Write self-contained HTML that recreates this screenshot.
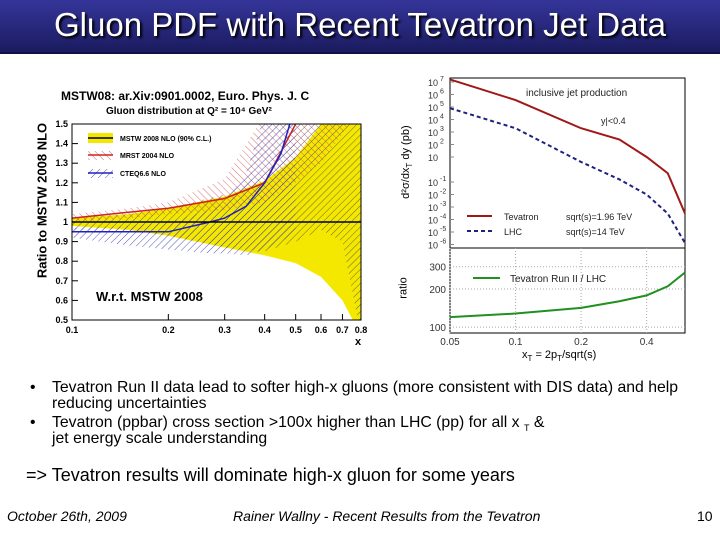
<!DOCTYPE html>
<html><head><meta charset="utf-8"><style>
body{margin:0;width:720px;height:540px;background:#fff;overflow:hidden;font-family:"Liberation Sans",sans-serif;position:relative}
.t{position:absolute;white-space:nowrap}
.sb{font-size:9px;position:relative;top:4px;line-height:0}
</style></head><body>
<div style="position:absolute;left:0;top:0;width:720px;height:52px;background:linear-gradient(#35359a,#1b1b60);border-bottom:2px solid #10104a"></div>
<div class="t" style="left:0;width:720px;text-align:center;top:6px;font-size:33px;color:#fff;text-shadow:2px 2px 2px #000">Gluon PDF with Recent Tevatron Jet Data</div>
<svg id="s" width="720" height="540" style="position:absolute;left:0;top:0" font-family="Liberation Sans, sans-serif">
<defs>
<pattern id="hk" width="5" height="5" patternUnits="userSpaceOnUse" patternTransform="rotate(45)"><line x1="0" y1="0" x2="0" y2="5" stroke="#444" stroke-width="0.8"/></pattern>
<pattern id="hr" width="5" height="5" patternUnits="userSpaceOnUse" patternTransform="rotate(-45)"><line x1="0" y1="0" x2="0" y2="5" stroke="#d05050" stroke-width="0.9"/></pattern>
<pattern id="hb" width="5" height="5" patternUnits="userSpaceOnUse" patternTransform="rotate(45)"><line x1="0" y1="0" x2="0" y2="5" stroke="#4040b0" stroke-width="0.9"/></pattern>
<clipPath id="cl"><rect x="72" y="124" width="289" height="196"/></clipPath>
</defs>
<g id="L"></g><g id="R"></g>
</svg>
<div class="t" style="left:61px;top:89px;font-size:12px;font-weight:bold">MSTW08: ar.Xiv:0901.0002, Euro. Phys. J. C</div>
<div class="t" style="left:106px;top:106px;font-size:10px;font-weight:bold">Gluon distribution at Q² = 10⁴ GeV²</div>
<div class="t" style="left:-38px;top:193px;font-size:13px;font-weight:bold;transform:rotate(-90deg);width:160px;text-align:center">Ratio to MSTW 2008 NLO</div>
<div class="t" style="left:96px;top:289px;font-size:13px;font-weight:bold">W.r.t. MSTW 2008</div>
<div class="t" style="left:342px;top:155px;font-size:11px;transform:rotate(-90deg);width:130px;text-align:center">d²σ/dx<sub style="font-size:8px">T</sub> dy (pb)</div>
<div class="t" style="left:393px;top:282px;font-size:11px;transform:rotate(-90deg)">ratio</div>
<div class="t" style="left:522px;top:349px;font-size:11px">x<sub style="font-size:8px">T</sub> = 2p<sub style="font-size:8px">T</sub>/sqrt(s)</div>
<div class="t" style="left:30px;top:380px;font-size:15.8px;line-height:16px">•</div>
<div class="t" style="left:52px;top:380px;font-size:15.8px;line-height:16px">Tevatron Run II data lead to softer high-x gluons (more consistent with DIS data) and help<br>reducing uncertainties</div>
<div class="t" style="left:30px;top:415px;font-size:15.8px;line-height:16px">•</div>
<div class="t" style="left:52px;top:415px;font-size:15.8px;line-height:16px">Tevatron (ppbar) cross section &gt;100x higher than LHC (pp) for all x <span class="sb">T</span> &amp;<br>jet energy scale understanding</div>
<div class="t" style="left:26px;top:465px;font-size:18px">=&gt; Tevatron results will dominate high-x gluon for some years</div>
<div class="t" style="left:7px;top:508px;font-size:14px;font-style:italic">October 26th, 2009</div>
<div class="t" style="left:233px;top:508px;font-size:14px;font-style:italic">Rainer Wallny - Recent Results from the Tevatron</div>
<div class="t" style="left:697px;top:508px;font-size:14px">10</div>
<script>
const gxs=[0.1,0.15,0.2,0.3,0.4,0.5,0.6,0.7,0.8];
const mstwUp=[1.02,1.04,1.07,1.13,1.21,1.33,1.50,1.70,1.9];
const mstwLo=[0.98,0.96,0.93,0.87,0.83,0.79,0.72,0.60,0.42];
const hatchUp=[1.02,1.04,1.07,1.14,1.25,1.50,1.8,2.1,2.4];
const hatchLo=[0.96,0.95,0.93,0.87,0.85,0.90,0.96,0.90,0.42];
const mrstXs=[0.1,0.15,0.2,0.3,0.4,0.5,0.6,0.7,0.8];
const mrstC=[1.02,1.05,1.07,1.12,1.20,1.50,1.9,2.3,2.7];
const mrstUp=[1.04,1.07,1.10,1.22,1.55,2.0,2.5,3,3.5];
const mrstLo=[1.00,1.02,1.04,1.06,1.10,1.20,1.30,1.45,1.6];
const ctXs=[0.1,0.15,0.2,0.27,0.3,0.35,0.4,0.45,0.5];
const ctC=[0.95,0.95,0.95,1.0,1.02,1.08,1.20,1.35,1.60];
const ctUp=[0.97,0.98,1.0,1.06,1.10,1.25,1.55,1.9,2.3];
const ctLo=[0.92,0.88,0.86,0.84,0.84,0.83,0.86,0.90,0.95];
const lYTicks=[0.5,0.6,0.7,0.8,0.9,1,1.1,1.2,1.3,1.4,1.5];
const lXTicks=[0.1,0.2,0.3,0.4,0.5,0.6,0.7,0.8];

const rXs=[0.05,0.1,0.2,0.3,0.4,0.5,0.6];
const tev=[1.6e7,3.6e5,2e3,2.5e2,10,0.5,3e-4];
const lhc=[8e4,2e3,4,0.16,1e-2,3e-4,1.3e-6];
const ratio=[120,128,142,160,178,210,270];
const rXTicks=[0.05,0.1,0.2,0.4];
const rYExp=[7,6,5,4,3,2,1,-1,-2,-3,-4,-5,-6];
const ratioTicks=[100,200,300];

const NS='http://www.w3.org/2000/svg';
function el(p,t,a){const e=document.createElementNS(NS,t);for(const k in a)e.setAttribute(k,a[k]);p.appendChild(e);return e;}
const L=document.getElementById('L'),R=document.getElementById('R');
const lx=v=>72+Math.log(v/0.1)/Math.log(8)*289;
const ly=v=>222-(v-1)*196;
function band(xs,up,lo){let d='';xs.forEach((x,i)=>d+=(i?'L':'M')+lx(x)+' '+ly(up[i]));for(let i=xs.length-1;i>=0;i--)d+='L'+lx(xs[i])+' '+ly(lo[i]);return d+'Z';}
function line(xs,ys,fx,fy){return xs.map((x,i)=>(i?'L':'M')+fx(x)+' '+fy(ys[i])).join('');}
const cg=el(L,'g',{'clip-path':'url(#cl)'});
let e;
e=el(cg,'path',{d:band(gxs,mstwUp,mstwLo),fill:'#f5e800'});

e=el(cg,'path',{d:band(gxs,hatchUp,hatchLo),fill:'url(#hk)'});

e=el(cg,'path',{d:band(mrstXs,mrstUp,mrstLo),fill:'url(#hr)',opacity:0.9});

e=el(cg,'path',{d:band(ctXs,ctUp,ctLo),fill:'url(#hb)'});

e=el(cg,'path',{d:line(mrstXs,mrstC,lx,ly),fill:'none',stroke:'#d02020','stroke-width':1.5});

e=el(cg,'path',{d:line(ctXs,ctC,lx,ly),fill:'none',stroke:'#2020c0','stroke-width':1.5});

e=el(cg,'line',{x1:72,x2:361,y1:ly(1),y2:ly(1),stroke:'#000','stroke-width':1.5});

e=el(L,'rect',{x:72,y:124,width:289,height:196,fill:'none',stroke:'#000','stroke-width':1});

lYTicks.forEach(v=>{el(L,'line',{x1:72,x2:78,y1:ly(v),y2:ly(v),stroke:'#000'});
 const t=el(L,'text',{x:68,y:ly(v)+3,'font-size':9,'font-weight':'bold','text-anchor':'end'});t.textContent=v;
 });
lXTicks.forEach(v=>{el(L,'line',{x1:lx(v),x2:lx(v),y1:320,y2:314,stroke:'#000'});
 const t=el(L,'text',{x:lx(v),y:333,'font-size':9,'font-weight':'bold','text-anchor':'middle'});t.textContent=v;
 });
e=el(L,'text',{x:358,y:345,'font-size':11,'font-weight':'bold','text-anchor':'middle'});e.textContent='x';

el(L,'rect',{x:88,y:133,width:25,height:10,fill:'#f5e800'});el(L,'line',{x1:88,x2:113,y1:138,y2:138,stroke:'#000','stroke-width':1.5});
el(L,'rect',{x:88,y:151,width:25,height:9,fill:'url(#hr)'});el(L,'line',{x1:88,x2:113,y1:155,y2:155,stroke:'#d02020','stroke-width':1.5});
el(L,'rect',{x:88,y:169,width:25,height:9,fill:'url(#hb)'});el(L,'line',{x1:88,x2:113,y1:173,y2:173,stroke:'#2020c0','stroke-width':1.5});
[['MSTW 2008 NLO (90% C.L.)',141],['MRST 2004 NLO',158],['CTEQ6.6 NLO',176]].forEach(a=>{const t=el(L,'text',{x:120,y:a[1],'font-size':7,'font-weight':'bold'});t.textContent=a[0];
 });

const rx=v=>450+Math.log(v/0.05)/Math.log(12)*235;
const ry=v=>82+(7-Math.log10(v))*12.5;
const rr=v=>289-Math.log(v/200)*55;
e=el(R,'rect',{x:450,y:78,width:235,height:170,fill:'#fff',stroke:'#000'});

e=el(R,'rect',{x:450,y:248,width:235,height:85,fill:'#fff',stroke:'#000'});

ratioTicks.forEach(v=>{el(R,'line',{x1:450,x2:685,y1:rr(v),y2:rr(v),stroke:'#aaa','stroke-dasharray':'1,2'});
 const t=el(R,'text',{x:446,y:rr(v)+4,'font-size':10,'text-anchor':'end',fill:'#333'});t.textContent=v;
 });
rXTicks.forEach(v=>{el(R,'line',{x1:rx(v),x2:rx(v),y1:248,y2:333,stroke:'#aaa','stroke-dasharray':'1,2'});
 const t=el(R,'text',{x:rx(v),y:345,'font-size':10,'text-anchor':'middle',fill:'#333'});t.textContent=v;
 });
rYExp.forEach(p=>{const y=ry(Math.pow(10,p));
 const t=el(R,'text',{x:428,y:y+4,'font-size':9,fill:'#333'});t.textContent='10';
 
 if(p!==1){const s=el(R,'text',{x:440,y:y-1,'font-size':7,fill:'#333'});s.textContent=p;}
 el(R,'line',{x1:450,x2:454,y1:y,y2:y,stroke:'#888'});});
e=el(R,'path',{d:line(rXs,tev,rx,ry),fill:'none',stroke:'#a01818','stroke-width':2});

e=el(R,'path',{d:line(rXs,lhc,rx,ry),fill:'none',stroke:'#202080','stroke-width':2,'stroke-dasharray':'4,3'});

e=el(R,'path',{d:line(rXs,ratio,rx,rr),fill:'none',stroke:'#209020','stroke-width':2});

[['inclusive jet production',526,96,10],['y|<0.4',601,124,9],['Tevatron',504,220,9],['sqrt(s)=1.96 TeV',566,220,9],['LHC',504,235,9],['sqrt(s)=14 TeV',566,235,9],['Tevatron Run II  /  LHC',510,282,10]].forEach(a=>{
 const t=el(R,'text',{x:a[1],y:a[2],'font-size':a[3],fill:'#222'});t.textContent=a[0];
 });
el(R,'line',{x1:467,x2:492,y1:216,y2:216,stroke:'#a01818','stroke-width':2});
el(R,'line',{x1:467,x2:492,y1:231,y2:231,stroke:'#202080','stroke-width':2,'stroke-dasharray':'4,3'});
el(R,'line',{x1:473,x2:500,y1:278,y2:278,stroke:'#209020','stroke-width':2});
</script>
</body></html>
